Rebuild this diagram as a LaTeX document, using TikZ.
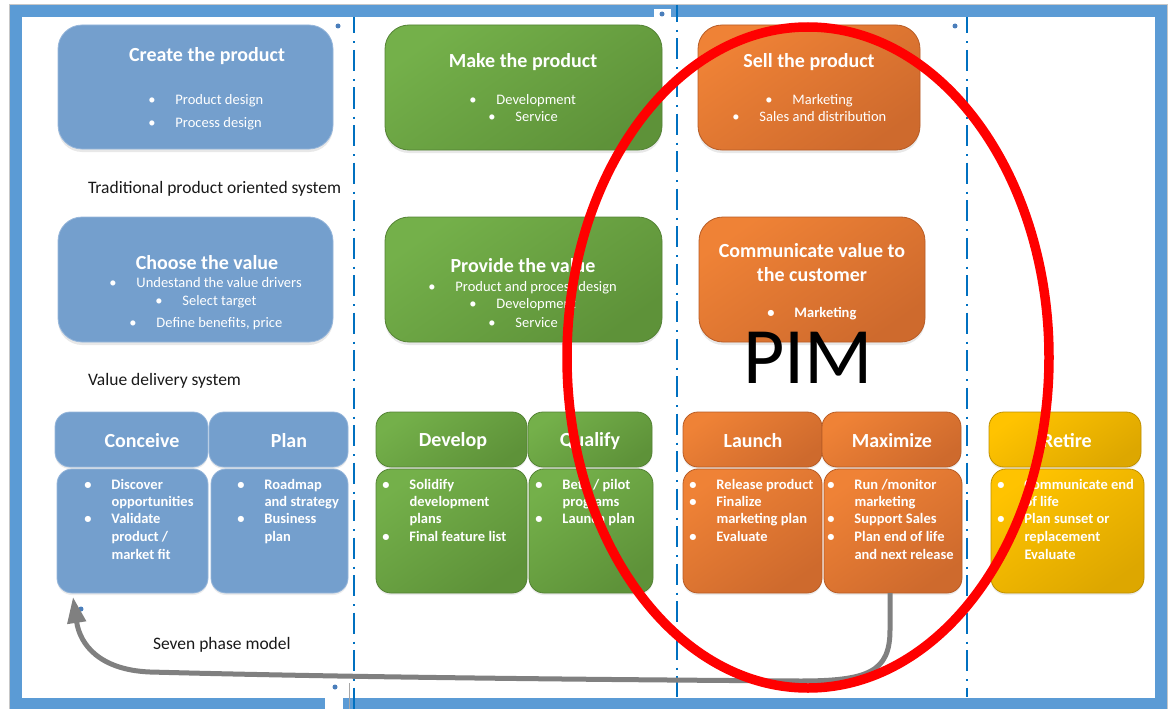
\documentclass[tikz,border=0pt]{standalone}
\usepackage{fontspec}
\setmainfont{Carlito}
\usetikzlibrary{arrows.meta,shadows,shapes.geometric}

\definecolor{frameblue}{RGB}{91,155,213}
\definecolor{sepblue}{RGB}{0,112,192}
\definecolor{dotblue}{RGB}{74,126,187}
\definecolor{boxblue}{RGB}{116,159,205}
\definecolor{boxblueedge}{RGB}{150,182,218}
\definecolor{greenA}{RGB}{116,176,74}
\definecolor{greenB}{RGB}{94,146,57}
\definecolor{greenedge}{RGB}{84,130,53}
\definecolor{orangeA}{RGB}{239,130,54}
\definecolor{orangeB}{RGB}{206,106,45}
\definecolor{orangeedge}{RGB}{183,92,38}
\definecolor{goldA}{RGB}{255,195,0}
\definecolor{goldB}{RGB}{221,167,0}
\definecolor{goldedge}{RGB}{191,144,0}
\definecolor{loopgray}{RGB}{128,128,128}

% bullet with hanging indent, and the indent alone for continuation lines
\newcommand\pbul{\makebox[0pt]{\textbullet}\hspace*{23.5pt}}
\newcommand\pnob{\hspace*{23.5pt}}

\begin{document}
\begin{tikzpicture}[x=1pt, y=-1pt,
  every node/.style={inner sep=0pt, outer sep=0pt},
  card/.style={rectangle, rounded corners=24pt, line width=0.8pt,
    drop shadow={opacity=0.18, shadow xshift=0pt, shadow yshift=-3pt}},
  tile/.style={rectangle, rounded corners=15pt, line width=0.8pt,
    drop shadow={opacity=0.15, shadow xshift=0pt, shadow yshift=-2pt}},
  bluefill/.style={fill=boxblue, draw=boxblueedge},
  greenfill/.style={draw=greenedge, top color=greenA, bottom color=greenB, shading angle=35},
  orangefill/.style={draw=orangeedge, top color=orangeA, bottom color=orangeB, shading angle=35},
  goldfill/.style={draw=goldedge, top color=goldA, bottom color=goldB, shading angle=35},
  ttl/.style={text=white, font=\bfseries\fontsize{20}{24}\selectfont, align=center, yshift=-1pt},
  bl/.style={anchor=mid west, text=white, font=\fontsize{14.5}{17}\selectfont, yshift=-2.5pt},
  blb/.style={anchor=mid west, text=white, font=\bfseries\fontsize{14.5}{17}\selectfont, yshift=-2.5pt},
  lbl/.style={anchor=mid west, text=black!90, font=\fontsize{17.5}{20}\selectfont, yshift=-3.5pt},
  sep/.style={sepblue, line width=2pt, dash pattern=on 21pt off 8pt on 2pt off 6.5pt},
  anchordot/.style={fill=dotblue}
]
\useasboundingbox (0,0) rectangle (1168,709);

% outer frame
\draw[black!22, line width=0.8pt] (9.5,4.5) rectangle (1167.5,712);
\draw[frameblue, line width=12pt] (16,11) rectangle (1161,704);
\fill[white] (325,697.5) rectangle (343,709.5);
\draw[loopgray!70, line width=0.6pt] (349.5,683) -- (349.5,709);
\fill[white] (654,9) rectangle (671,22);

% column separators
\draw[sep, dash phase=4.5pt] (354,17) -- (354,709);
\draw[sep, dash phase=4pt] (677,5) -- (677,697);
\draw[sep, dash phase=4.5pt] (966.5,17) -- (966.5,697);

% small anchor marks
\fill[anchordot] (338,26) circle (2.5pt);
\fill[anchordot] (662,14) circle (2.5pt);
\fill[anchordot] (955,26) circle (2.5pt);
\fill[anchordot] (81,609) circle (2.5pt);
\fill[anchordot] (335,687) circle (2.5pt);

% ---------- traditional product oriented system ----------
\node[card, bluefill, minimum width=275pt, minimum height=124pt] (create) at (195.5,87) {};
\node[ttl] (createT) at (207,55) {Create the product};
\node[bl] (create1) at (152,100) {\pbul Product design};
\node[bl] (create2) at (152,123) {\pbul Process design};

\node[card, greenfill, minimum width=277pt, minimum height=125pt] (make) at (523.5,87.5) {};
\node[ttl] (makeT) at (523,61) {Make the product};
\node[bl] (make1) at (473,100) {\pbul Development};
\node[bl] (make2) at (492,117) {\pbul Service};

\node[card, orangefill, minimum width=222pt, minimum height=125pt] (sell) at (809,87.5) {};
\node[ttl] (sellT) at (809,61) {Sell the product};
\node[bl] (sell1) at (769,100) {\pbul Marketing};
\node[bl] (sell2) at (736,117) {\pbul Sales and distribution};

\node[lbl] (trad) at (88,188) {Traditional product oriented system};

% ---------- value delivery system ----------
\node[card, bluefill, minimum width=275pt, minimum height=125pt] (choose) at (195.5,279.5) {};
\node[ttl] (chooseT) at (207,262) {Choose the value};
\node[bl] (choose1) at (113,283) {\pbul Undestand the value drivers};
\node[bl] (choose2) at (159,301) {\pbul Select target};
\node[bl] (choose3) at (133,323) {\pbul Define benefits, price};

\node[card, greenfill, minimum width=277pt, minimum height=125pt] (provide) at (523.5,279.5) {};
\node[ttl] (provideT) at (523,265) {Provide the value};
\node[bl] (provide1) at (432,287) {\pbul Product and process design};
\node[bl] (provide2) at (473,304) {\pbul Development};
\node[bl] (provide3) at (492,323) {\pbul Service};

\node[card, orangefill, minimum width=226pt, minimum height=125pt] (comm) at (812,279.5) {};
\node[ttl] (commT) at (812,262) {Communicate value to\\the customer};
\node[blb] (comm1) at (771,313) {\pbul Marketing};

\node[lbl] (vds) at (88,380) {Value delivery system};

% ---------- seven phase model: headers ----------
\node[tile, bluefill, minimum width=153pt, minimum height=55pt] (conc) at (131.5,439.5) {};
\node[ttl] (concT) at (142,440) {Conceive};
\node[tile, bluefill, minimum width=139pt, minimum height=55pt] (plan) at (278.5,439.5) {};
\node[ttl] (planT) at (289,440) {Plan};
\node[tile, greenfill, minimum width=151pt, minimum height=55pt] (dev) at (451.5,439.5) {};
\node[ttl] (devT) at (453,440) {Develop};
\node[tile, greenfill, minimum width=124pt, minimum height=55pt] (qual) at (590,439.5) {};
\node[ttl] (qualT) at (590,440) {Qualify};
\node[tile, orangefill, minimum width=139pt, minimum height=55pt] (laun) at (752.5,439.5) {};
\node[ttl] (launT) at (753,440) {Launch};
\node[tile, orangefill, minimum width=139pt, minimum height=55pt] (maxi) at (891.5,439.5) {};
\node[ttl] (maxiT) at (892,440) {Maximize};
\node[tile, goldfill, minimum width=152pt, minimum height=55pt] (reti) at (1065,439.5) {};
\node[ttl] (retiT) at (1067,440) {Retire};

% ---------- seven phase model: bodies ----------
\node[tile, bluefill, minimum width=151pt, minimum height=124pt] (concb) at (132.5,531) {};
\node[blb] (cb1) at (88,485) {\pbul Discover};
\node[blb] (cb2) at (88,502) {\pnob opportunities};
\node[blb] (cb3) at (88,519) {\pbul Validate};
\node[blb] (cb4) at (88,537) {\pnob product /};
\node[blb] (cb5) at (88,555) {\pnob market fit};

\node[tile, bluefill, minimum width=137pt, minimum height=124pt] (planb) at (279.5,531) {};
\node[blb] (pb1) at (241,485) {\pbul Roadmap};
\node[blb] (pb2) at (241,502) {\pnob and strategy};
\node[blb] (pb3) at (241,519) {\pbul Business};
\node[blb] (pb4) at (241,537) {\pnob plan};

\node[tile, greenfill, minimum width=151pt, minimum height=124pt] (devb) at (451.5,531) {};
\node[blb] (db1) at (386,485) {\pbul Solidify};
\node[blb] (db2) at (386,502) {\pnob development};
\node[blb] (db3) at (386,519) {\pnob plans};
\node[blb] (db4) at (386,537) {\pbul Final feature list};

\node[tile, greenfill, minimum width=124pt, minimum height=124pt] (qualb) at (591,531) {};
\node[blb] (qb1) at (539,485) {\pbul Beta / pilot};
\node[blb] (qb2) at (539,502) {\pnob programs};
\node[blb] (qb3) at (539,519) {\pbul Launch plan};

\node[tile, orangefill, minimum width=139pt, minimum height=124pt] (launb) at (752.5,531) {};
\node[blb] (lb1) at (693,485) {\pbul Release product};
\node[blb] (lb2) at (693,502) {\pbul Finalize};
\node[blb] (lb3) at (693,519) {\pnob marketing plan};
\node[blb] (lb4) at (693,537) {\pbul Evaluate};

\node[tile, orangefill, minimum width=138pt, minimum height=124pt] (maxib) at (893,531) {};
\node[blb] (mb1) at (831,485) {\pbul Run /monitor};
\node[blb] (mb2) at (831,502) {\pnob marketing};
\node[blb] (mb3) at (831,519) {\pbul Support Sales};
\node[blb] (mb4) at (831,537) {\pbul Plan end of life};
\node[blb] (mb5) at (831,555) {\pnob and next release};

\node[tile, goldfill, minimum width=153pt, minimum height=124pt] (retib) at (1067.5,531) {};
\node[blb] (rb1) at (1001,485) {\pbul Communicate end};
\node[blb] (rb2) at (1001,502) {\pnob of life};
\node[blb] (rb3) at (1001,519) {\pbul Plan sunset or};
\node[blb] (rb4) at (1001,537) {\pnob replacement};
\node[blb] (rb5) at (1001,555) {\pnob Evaluate};

\node[lbl] (spm) at (153,644) {Seven phase model};

% loop back from the last phases to the first one
\coordinate (looptip) at (73,597);
\draw[loopgray, line width=5pt, -{Triangle[length=26pt,width=18pt]}]
  ([xshift=-3pt]maxib.south) -- (890,630)
  .. controls (890,672) and (868,681) .. (800,681)
  .. controls (500,679) and (300,676) .. (150,672)
  .. controls (100,670) and (80,645) .. (looptip);

% PIM highlight
\node[draw=red, line width=9.5pt, ellipse, minimum width=482pt, minimum height=661pt,
      font=\fontsize{80}{80}\selectfont] (pim) at (808,357.5) {PIM};

\end{tikzpicture}
\end{document}
